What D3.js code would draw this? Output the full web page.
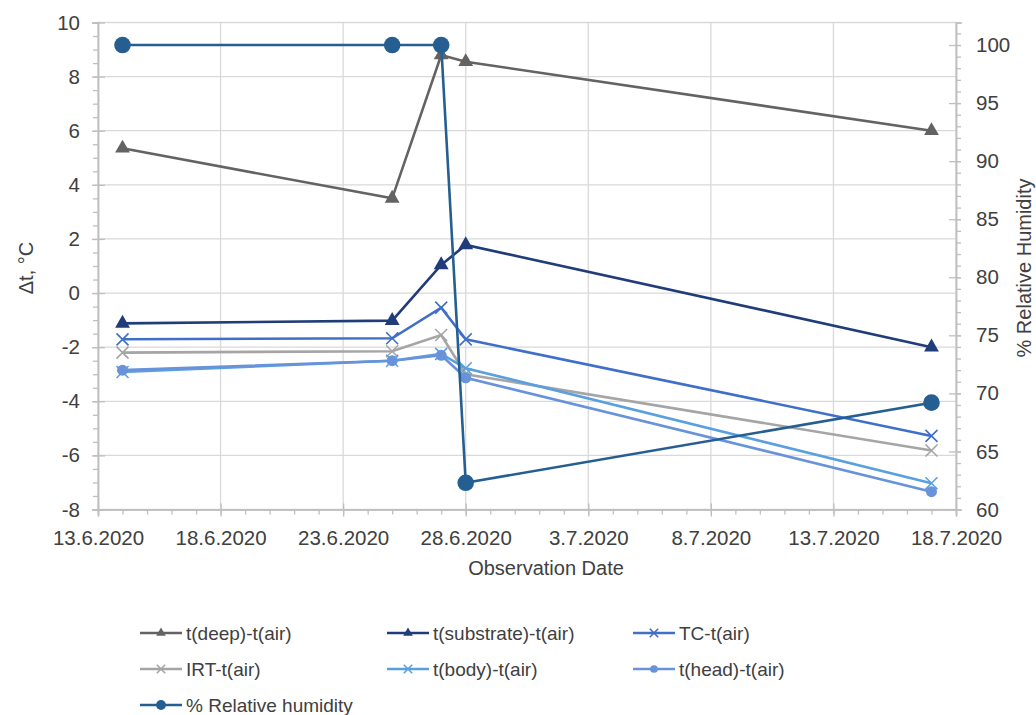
<!DOCTYPE html>
<html><head><meta charset="utf-8">
<script src="https://cdn.jsdelivr.net/npm/d3@7"></script>
<style>body{margin:0;background:#fff;}svg{display:block;font-family:"Liberation Sans",Arial,sans-serif;}</style>
</head><body>
<svg id="c" width="1036" height="715"></svg>
<script>
const dates = ["2020-06-14","2020-06-25","2020-06-27","2020-06-28","2020-07-17"];
const tDeep = [5.35, 3.5, 8.8, 8.55, 6.0];
const tSubstrate = [-1.12, -1.02, 1.04, 1.78, -2.0];
const tcAir = [-1.71, -1.67, -0.54, -1.71, -5.28];
const irtAir = [-2.2, -2.15, -1.55, -3.0, -5.82];
const tBody = [-2.92, -2.5, -2.25, -2.78, -7.03];
const tHead = [-2.85, -2.5, -2.3, -3.13, -7.34];
const humidity = [100, 100, 100, 62.3, 69.2];
const leftTicks = [-8,-6,-4,-2,0,2,4,6,8,10];
const rightTicks = [60,65,70,75,80,85,90,95,100];
const xTickDates = ["2020-06-13","2020-06-18","2020-06-23","2020-06-28","2020-07-03","2020-07-08","2020-07-13","2020-07-18"];

const series = [
  {name:"t(deep)-t(air)", vals:tDeep, color:"#636363", marker:"tri", axis:"L"},
  {name:"t(substrate)-t(air)", vals:tSubstrate, color:"#203d7a", marker:"tri", axis:"L"},
  {name:"TC-t(air)", vals:tcAir, color:"#3f6fc8", marker:"x", axis:"L"},
  {name:"IRT-t(air)", vals:irtAir, color:"#a5a5a5", marker:"x", axis:"L"},
  {name:"t(body)-t(air)", vals:tBody, color:"#5aa0e0", marker:"x", axis:"L"},
  {name:"t(head)-t(air)", vals:tHead, color:"#6892da", marker:"circ", axis:"L"},
  {name:"% Relative humidity", vals:humidity, color:"#255e91", marker:"bigcirc", axis:"R"}
];

const parse = d3.utcParse("%Y-%m-%d");
const svg = d3.select("#c");
const L = 98, R = 956, T = 22.5, B = 509.5;
const x = d3.scaleUtc().domain([parse("2020-06-13"), parse("2020-07-18")]).range([L, R]);
const yL = d3.scaleLinear().domain([-8, 10]).range([B, T]);
const yR = d3.scaleLinear().domain([60, 101.94]).range([B, T]);
const grid = "#d9d9d9", axc = "#bfbfbf", txt = "#404040";
const fmt = d => `${d.getUTCDate()}.${d.getUTCMonth()+1}.${d.getUTCFullYear()}`;
const xMajor = xTickDates.map(parse);

// gridlines
svg.append("g").selectAll("line").data(leftTicks).join("line")
  .attr("x1", L).attr("x2", R).attr("y1", d=>yL(d)).attr("y2", d=>yL(d))
  .attr("stroke", grid).attr("stroke-width", 1.3);
svg.append("g").selectAll("line").data(xMajor).join("line")
  .attr("x1", d=>x(d)).attr("x2", d=>x(d)).attr("y1", T).attr("y2", B)
  .attr("stroke", grid).attr("stroke-width", 1.3);

// axes
function styleAxis(g){ g.select(".domain").attr("stroke", axc).attr("stroke-width",1.5); g.selectAll(".tick line").attr("stroke", axc).attr("stroke-width",1.3); g.selectAll("text").attr("fill", txt).style("font-size","20.5px").style("font-family","'Liberation Sans',Arial,sans-serif"); }
const xMinor = d3.utcDay.range(parse("2020-06-13"), d3.utcDay.offset(parse("2020-07-18"),1));
svg.append("g").attr("transform",`translate(0,${B})`).call(d3.axisBottom(x).tickValues(xMinor).tickSize(5).tickFormat("")).call(styleAxis);
const gx = svg.append("g").attr("transform",`translate(0,${B})`).call(d3.axisBottom(x).tickValues(xMajor).tickSize(7).tickFormat(fmt).tickPadding(14)).call(styleAxis);
gx.selectAll(".tick line").attr("y1", -6);
// y left
const yLMinor = d3.range(-8, 10.01, 0.5);
svg.append("g").attr("transform",`translate(${L},0)`).call(d3.axisLeft(yL).tickValues(yLMinor).tickSize(5).tickFormat("")).call(styleAxis);
const gyl = svg.append("g").attr("transform",`translate(${L},0)`).call(d3.axisLeft(yL).tickValues(leftTicks).tickSize(6).tickPadding(12).tickFormat(d => String(d))).call(styleAxis);
gyl.selectAll(".tick line").attr("x2", 7).attr("x1",-6);
// y right
const yRMinor = d3.range(60, 101.95, 1);
svg.append("g").attr("transform",`translate(${R},0)`).call(d3.axisRight(yR).tickValues(yRMinor).tickSize(5).tickFormat("")).call(styleAxis);
const gyr = svg.append("g").attr("transform",`translate(${R},0)`).call(d3.axisRight(yR).tickValues(rightTicks).tickSize(6).tickPadding(14).tickFormat(d => String(d))).call(styleAxis);
gyr.selectAll(".tick line").attr("x1", -7).attr("x2",5);

// axis titles
svg.append("text").attr("transform","translate(33,268) rotate(-90)").attr("text-anchor","middle")
  .attr("fill",txt).style("font-size","20px").text("Δt, °C");
svg.append("text").attr("transform","translate(1031,268) rotate(-90)").attr("text-anchor","middle")
  .attr("fill",txt).style("font-size","20px").text("% Relative Humidity");
svg.append("text").attr("x",546).attr("y",575).attr("text-anchor","middle")
  .attr("fill",txt).style("font-size","20px").text("Observation Date");

// markers
function drawMarker(g, type, color, cx, cy, scale){
  const s = scale || 1;
  if(type==="tri"){
    g.append("path").attr("d", d3.symbol().type(d3.symbolTriangle).size(95*s*s)())
      .attr("transform",`translate(${cx},${cy})`).attr("fill", color);
  } else if(type==="x"){
    const h = 6*s;
    g.append("path").attr("d",`M${cx-h},${cy-h}L${cx+h},${cy+h}M${cx-h},${cy+h}L${cx+h},${cy-h}`)
      .attr("stroke", color).attr("stroke-width",1.6).attr("fill","none");
  } else if(type==="circ"){
    g.append("circle").attr("cx",cx).attr("cy",cy).attr("r",5.5*s).attr("fill",color);
  } else if(type==="bigcirc"){
    g.append("circle").attr("cx",cx).attr("cy",cy).attr("r",8.3*s).attr("fill",color);
  }
}

const line = d3.line();
series.forEach(s => {
  const ys = s.axis==="L" ? yL : yR;
  const pts = s.vals.map((v,i)=>[x(parse(dates[i])), ys(v)]);
  const g = svg.append("g");
  g.append("path").attr("d", line(pts)).attr("fill","none").attr("stroke", s.color).attr("stroke-width", 2.6);
  pts.forEach(p => drawMarker(g, s.marker, s.color, p[0], p[1], 1));
});

// legend
const legCols = [140, 387, 633];
const legRows = [633, 669, 705];
series.forEach((s,i) => {
  const cx = legCols[i%3], cy = legRows[Math.floor(i/3)];
  const g = svg.append("g");
  g.append("line").attr("x1",cx).attr("x2",cx+42).attr("y1",cy).attr("y2",cy).attr("stroke",s.color).attr("stroke-width",2.6);
  const mk = s.marker==="bigcirc" ? "circ" : s.marker;
  drawMarker(g, mk, s.color, cx+21, cy, s.marker==="tri"?0.65:(s.marker==="bigcirc"?0.9:0.7));
  g.append("text").attr("x",cx+46).attr("y",cy).attr("dy","0.35em").attr("fill",txt).style("font-size","19px").text(s.name);
});
</script>
</body></html>
